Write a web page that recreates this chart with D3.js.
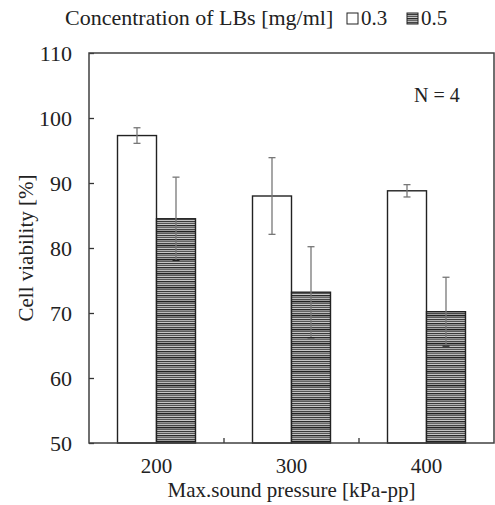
<!DOCTYPE html>
<html>
<head>
<meta charset="utf-8">
<script src="https://cdn.jsdelivr.net/npm/d3@7"></script>
<style>
  body { margin: 0; background: #fff; }
  svg text { font-family: "Liberation Serif", "Times New Roman", serif !important; fill: #222; }
</style>
</head>
<body>
<script>
// categories and series
const pressures = ['200', '300', '400'];
const conc = ['0.3', '0.5'];
const viability03 = [97.3, 88.0, 88.8];
const error03 = [1.2, 5.9, 0.95];
const viability05 = [84.5, 73.2, 70.2];
const error05 = [6.4, 7.0, 5.3];
const yTicks = [50, 60, 70, 80, 90, 100, 110];

const W = 495, H = 505;
const m = { left: 89, right: 1, top: 53, bottom: 62 };
const pw = W - m.left - m.right, ph = H - m.top - m.bottom;

const svg = d3.select('body').append('svg')
  .attr('width', W).attr('height', H);

// stripe pattern for 0.5 bars
const greys = ['#3a3a3a', '#b0b0b0', '#555', '#c8c8c8', '#2a2a2a', '#909090',
  '#666', '#bcbcbc', '#444', '#a0a0a0', '#222', '#808080', '#5a5a5a', '#c4c4c4'];
const pat = svg.append('defs').append('pattern')
  .attr('id', 'stripes').attr('patternUnits', 'userSpaceOnUse')
  .attr('width', 8).attr('height', greys.length);
greys.forEach((c, i) => pat.append('rect')
  .attr('x', 0).attr('y', i).attr('width', 8).attr('height', 1).attr('fill', c));

const g = svg.append('g').attr('transform', `translate(${m.left},${m.top})`);

const x = d3.scaleBand().domain(pressures).range([0, pw]);
const y = d3.scaleLinear().domain([50, 110]).range([ph, 0]);
const barW = 39;

const rows = pressures.map((p, i) => ({
  p,
  vals: [
    { k: 0, v: viability03[i], e: error03[i] },
    { k: 1, v: viability05[i], e: error05[i] }
  ]
}));

// bars
const grp = g.selectAll('.grp').data(rows).enter().append('g')
  .attr('transform', d => `translate(${x(d.p) + x.bandwidth() / 2 - barW},0)`);

grp.selectAll('rect').data(d => d.vals).enter().append('rect')
  .attr('x', d => d.k * barW)
  .attr('y', d => y(d.v))
  .attr('width', barW)
  .attr('height', d => ph - y(d.v))
  .attr('fill', d => d.k === 0 ? '#fff' : 'url(#stripes)')
  .attr('stroke', '#222')
  .attr('stroke-width', 1.4);

// error bars
const eb = grp.selectAll('.eb').data(d => d.vals).enter().append('g')
  .attr('stroke', '#777').attr('stroke-width', 1.3);
eb.append('line')
  .attr('x1', d => d.k * barW + barW / 2).attr('x2', d => d.k * barW + barW / 2)
  .attr('y1', d => y(d.v + d.e)).attr('y2', d => y(d.v - d.e));
eb.append('line')
  .attr('x1', d => d.k * barW + barW / 2 - 3.5).attr('x2', d => d.k * barW + barW / 2 + 3.5)
  .attr('y1', d => y(d.v + d.e)).attr('y2', d => y(d.v + d.e));
eb.append('line')
  .attr('x1', d => d.k * barW + barW / 2 - 3.5).attr('x2', d => d.k * barW + barW / 2 + 3.5)
  .attr('y1', d => y(d.v - d.e)).attr('y2', d => y(d.v - d.e))
  .attr('stroke', d => d.k === 1 ? '#222' : '#777');

// y axis: inward ticks
const yAx = g.append('g').call(d3.axisLeft(y).tickValues(yTicks).tickSizeInner(-5).tickSizeOuter(0).tickPadding(17));
yAx.attr('font-family', null);
yAx.select('.domain').remove();
yAx.selectAll('line').attr('stroke', '#333').attr('stroke-width', 1.3);
yAx.selectAll('text').attr('font-size', 22).attr('fill', '#222');

// x axis: ticks at category boundaries
const xb = pressures.slice(1).map(p => x(p));
g.selectAll('.xt').data(xb).enter().append('line')
  .attr('x1', d => d).attr('x2', d => d)
  .attr('y1', ph).attr('y2', ph - 5)
  .attr('stroke', '#333').attr('stroke-width', 1.3);
g.selectAll('.xl').data(pressures).enter().append('text')
  .attr('x', d => x(d) + x.bandwidth() / 2).attr('y', ph + 30)
  .attr('text-anchor', 'middle').attr('font-size', 21).text(d => d);

// frame
g.append('rect').attr('width', pw).attr('height', ph)
  .attr('fill', 'none').attr('stroke', '#404040').attr('stroke-width', 1.5);

// titles
svg.append('text').attr('x', m.left + pw / 2).attr('y', 497)
  .attr('text-anchor', 'middle').attr('font-size', 21).text('Max.sound pressure [kPa-pp]');
svg.append('text').attr('transform', `translate(33,${m.top + ph / 2}) rotate(-90)`)
  .attr('text-anchor', 'middle').attr('font-size', 21).text('Cell viability [%]');
svg.append('text').attr('x', 65).attr('y', 25).attr('font-size', 22)
  .text('Concentration of LBs [mg/ml]');
svg.append('text').attr('x', 414).attr('y', 102).attr('font-size', 20).text('N = 4');

// legend
const lg = svg.append('g').selectAll('g').data(conc).enter().append('g')
  .attr('transform', (d, i) => `translate(${347 + i * 60},0)`);
lg.append('rect').attr('x', 0).attr('y', 13).attr('width', 11).attr('height', 11)
  .attr('fill', (d, i) => i === 0 ? '#fff' : 'url(#stripes)')
  .attr('stroke', '#222').attr('stroke-width', 1);
lg.append('text').attr('x', 14).attr('y', 25).attr('font-size', 21).text(d => d);
</script>
</body>
</html>
